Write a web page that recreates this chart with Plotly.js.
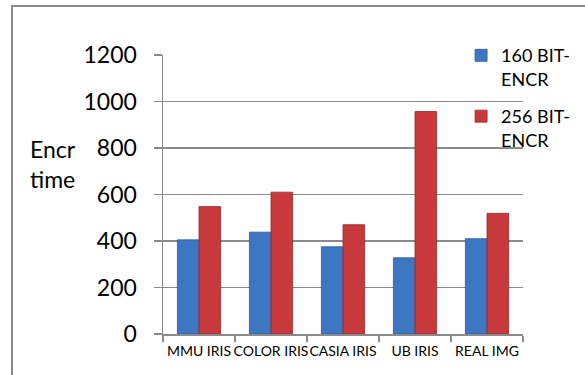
<!DOCTYPE html>
<html>
<head>
<meta charset="utf-8">
<script src="https://cdn.plot.ly/plotly-3.0.1.min.js"></script>
<style>html,body{margin:0;padding:0;background:#fff;}#chart{width:585px;height:375px;}</style>
</head>
<body>
<div id="chart"></div>
<script>
const categories = ["MMU IRIS", "COLOR IRIS", "CASIA IRIS", "UB IRIS", "REAL IMG"];
const seriesNames = ["160 BIT-<br>ENCR", "256 BIT-<br>ENCR"];
const enc160 = [405, 438, 375, 328, 410];
const enc256 = [548, 610, 470, 957, 519];
const yTicks = [0, 200, 400, 600, 800, 1000, 1200];
const yTitleLines = ["Encr", "time"];

const FONT = "Lato, Roboto, 'Liberation Sans', sans-serif";
const GRID = "#8a8a8a";

const traces = [
  {type: "bar", x: categories, y: enc160, name: seriesNames[0], legendgroup: "g160",
   marker: {color: "#3d77c4", line: {color: "#2c5a99", width: 0.8}}},
  {type: "bar", x: categories, y: enc256, name: seriesNames[1], legendgroup: "g256",
   marker: {color: "#c8393b", line: {color: "#962a2c", width: 0.8}}}
];

const layout = {
  width: 585, height: 375,
  margin: {l: 163, r: 62, t: 55, b: 41, autoexpand: false},
  paper_bgcolor: "#fff", plot_bgcolor: "#fff",
  font: {family: FONT, color: "#000"},
  barmode: "group", bargap: 0.4, bargroupgap: 0,
  showlegend: true,
  legend: {x: 0.828, xanchor: "left", y: 1.064, yanchor: "top", valign: "top",
           bgcolor: "rgba(0,0,0,0)", font: {size: 18, family: FONT}, tracegroupgap: 11},
  xaxis: {type: "category", showline: true, linecolor: GRID, linewidth: 1.5,
          ticks: "outside", tickson: "boundaries", ticklen: 6, tickcolor: GRID, tickwidth: 1.5,
          tickangle: 0, tickfont: {size: 14, family: FONT}, ticklabelstandoff: 4,
          showgrid: false, automargin: false},
  yaxis: {range: [0, 1200], tickvals: yTicks, showline: true, linecolor: GRID, linewidth: 1.5,
          ticks: "outside", ticklen: 8, tickcolor: GRID, tickwidth: 1.5,
          showgrid: true, gridcolor: GRID, gridwidth: 1.5, zeroline: false,
          tickfont: {size: 23, family: FONT}, ticklabelstandoff: 12, automargin: false},
  annotations: [{xref: "paper", yref: "paper", x: -0.375, y: 0.722, xanchor: "left", yanchor: "top",
                 align: "left", showarrow: false, text: yTitleLines.join("<br>"),
                 font: {size: 23, family: FONT}}],
  shapes: [{type: "rect", xref: "paper", yref: "paper", x0: -0.4194, x1: 1.2, y0: -0.2, y1: 1.1756,
            line: {color: "#8a8a8a", width: 2}, fillcolor: "rgba(0,0,0,0)", layer: "below"}]
};

Plotly.newPlot("chart", traces, layout, {staticPlot: true, displayModeBar: false});
</script>
</body>
</html>
